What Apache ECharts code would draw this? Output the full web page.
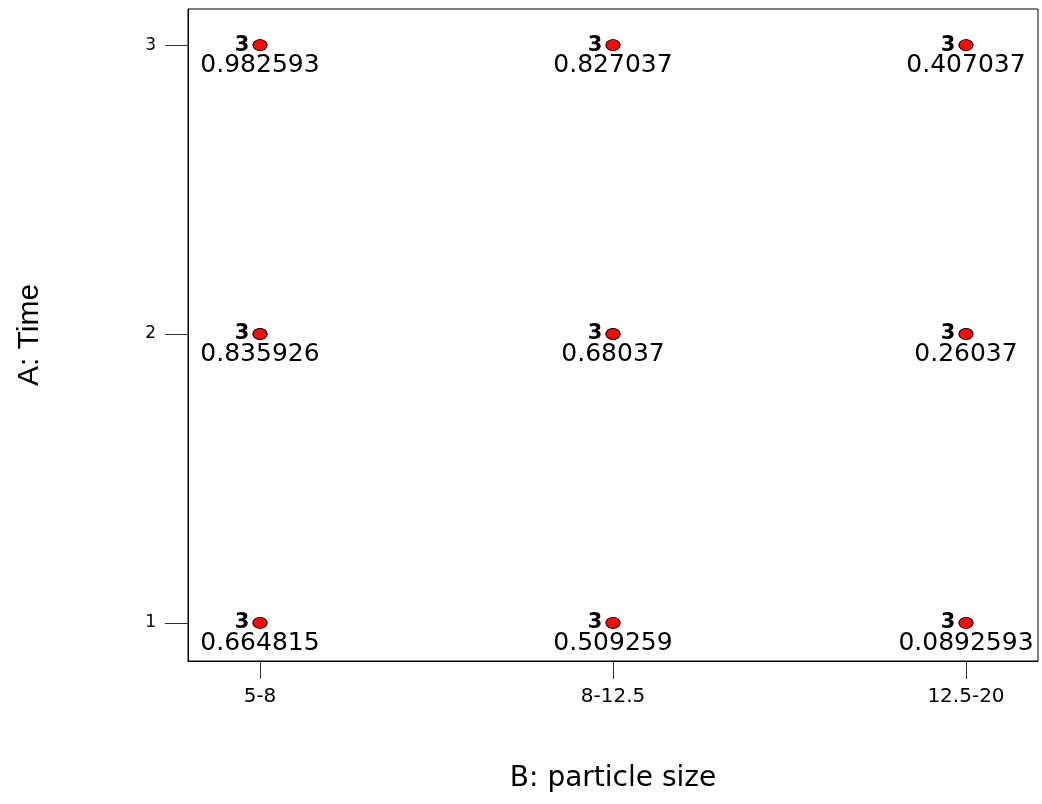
<!DOCTYPE html>
<html>
<head>
<meta charset="utf-8">
<script src="https://cdn.jsdelivr.net/npm/echarts@6/dist/echarts.min.js"></script>
<style>html,body{margin:0;padding:0;background:#fff}#c{width:1042px;height:804px}</style>
</head>
<body>
<div id="c"></div>
<script>
// Categories of factor B (x) and levels of factor A (y)
const particleSizes = ['5-8', '8-12.5', '12.5-20'];
const timeLevels = [1, 2, 3];
const timeTickLabels = ['1', '2', '3'];
// Mean response for each time level (rows) and particle size (columns)
const valuesTime1 = [0.664815, 0.509259, 0.0892593];
const valuesTime2 = [0.835926, 0.68037, 0.26037];
const valuesTime3 = [0.982593, 0.827037, 0.407037];
// Number of observations in each cell
const countsTime1 = [3, 3, 3];
const countsTime2 = [3, 3, 3];
const countsTime3 = [3, 3, 3];

const valueRows = [valuesTime1, valuesTime2, valuesTime3];
const countRows = [countsTime1, countsTime2, countsTime3];
const points = [];
timeLevels.forEach((t, ti) => {
  particleSizes.forEach((p, pi) => {
    points.push([pi + 1, t, valueRows[ti][pi], countRows[ti][pi]]);
  });
});

const dotStyle = { color: '#ff0000', borderColor: '#000', borderWidth: 1 };
const chart = echarts.init(document.getElementById('c'));
chart.setOption({
  animation: false,
  backgroundColor: '#fff',
  grid: { left: 188, right: 4, top: 9, bottom: 143, show: true, borderColor: '#000', borderWidth: 1,
    containLabel: false, outerBoundsMode: 'none' },
  xAxis: {
    type: 'value', min: 0.796, max: 3.204,
    name: 'B: particle size', nameLocation: 'middle', nameGap: 104,
    nameTextStyle: { fontFamily: 'DejaVu Sans', fontSize: 28, color: '#000' },
    axisLine: { show: true, lineStyle: { color: '#000', width: 1 } },
    axisTick: { show: true, customValues: [1, 2, 3], length: 18, lineStyle: { color: '#333', width: 1 } },
    axisLabel: { customValues: [1, 2, 3], margin: 26, fontFamily: 'DejaVu Sans', fontSize: 20, color: '#000',
      formatter: v => particleSizes[Math.round(v) - 1] },
    splitLine: { show: false }
  },
  yAxis: {
    type: 'value', min: 0.868, max: 3.125,
    name: 'A: Time', nameLocation: 'middle', nameGap: 143,
    nameTextStyle: { fontFamily: 'Liberation Sans', fontSize: 30, color: '#000' },
    axisLine: { show: true, lineStyle: { color: '#000', width: 1 } },
    axisTick: { show: true, customValues: timeLevels, length: 23, lineStyle: { color: '#333', width: 1 } },
    axisLabel: { customValues: timeLevels, margin: 32, fontFamily: 'DejaVu Sans', fontSize: 17, color: '#000',
      formatter: v => timeTickLabels[Math.round(v) - 1] },
    splitLine: { show: false }
  },
  series: [
    {
      type: 'scatter', data: points, symbol: 'circle', symbolSize: [14, 11],
      itemStyle: dotStyle,
      label: { show: true, position: 'bottom', distance: 2, fontFamily: 'DejaVu Sans', fontSize: 25,
        color: '#000000', opacity: 1, textBorderWidth: 0,
        formatter: p => String(p.data[2]) },
      emphasis: { disabled: true },
      z: 2
    },
    {
      type: 'scatter', data: points, symbol: 'circle', symbolSize: [14, 11],
      itemStyle: dotStyle,
      label: { show: true, position: 'left', distance: 3, fontFamily: 'DejaVu Sans', fontWeight: 'bold', fontSize: 21,
        color: '#000000', opacity: 1, textBorderWidth: 0,
        formatter: p => String(p.data[3]) },
      emphasis: { disabled: true },
      z: 3
    }
  ]
});
</script>
</body>
</html>
